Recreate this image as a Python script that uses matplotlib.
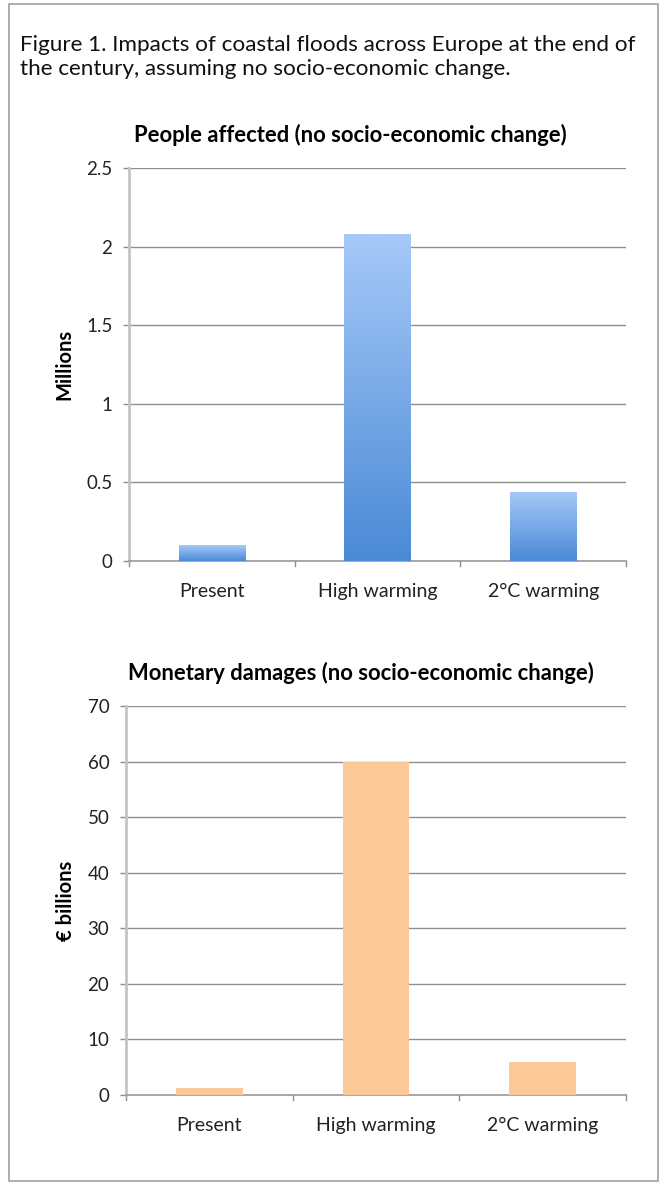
import numpy as np
import matplotlib.pyplot as plt
from matplotlib.colors import LinearSegmentedColormap
from matplotlib.patches import Rectangle

plt.rcParams['font.family'] = ['Lato', 'DejaVu Sans']

scenarios = ['Present', 'High warming', '2°C warming']
people_millions = [0.10, 2.08, 0.44]
damages_billion_eur = [1.2, 60.0, 6.0]

people_ticks = [0, 0.5, 1, 1.5, 2, 2.5]
people_tick_labels = ['0', '0.5', '1', '1.5', '2', '2.5']
damage_ticks = [0, 10, 20, 30, 40, 50, 60, 70]

caption = ('Figure 1. Impacts of coastal floods across Europe at the end of\n'
           'the century, assuming no socio-economic change.')

W, H = 666, 1184
fig = plt.figure(figsize=(W / 100, H / 100), dpi=100)

# frame around the whole figure
fig.add_artist(Rectangle((9 / W, 3 / H), 649 / W, 1177 / H, transform=fig.transFigure,
                         fill=False, ec='#a0a0a0', lw=1.2))
fig.text(20 / W, 1 - 35 / H, caption, ha='left', va='top', fontsize=16.2,
         color='#111111', linespacing=1.25)

blue_cmap = LinearSegmentedColormap.from_list('blue_grad', ['#4a8ad6', '#a6c9f8'])


def style_axis(ax, ticks, labels, top, ylabel, title, title_x):
    ax.set_xlim(-0.5, 2.5)
    ax.set_ylim(0, top)
    ax.set_yticks(ticks)
    ax.set_yticklabels(labels, fontsize=13.5, color='#222222')
    ax.set_xticks([0, 1, 2])
    ax.set_xticklabels(scenarios, fontsize=14, color='#222222')
    ax.tick_params(axis='x', length=0, pad=16)
    ax.tick_params(axis='y', length=4, color='#8c8c8c', width=1, pad=8)
    # category boundary ticks on the x axis
    for xb in [-0.5, 0.5, 1.5, 2.5]:
        ax.plot([xb, xb], [0, -top * 0.012], color='#8c8c8c', lw=1, clip_on=False)
    for s in ['top', 'right']:
        ax.spines[s].set_visible(False)
    ax.spines['left'].set_color('#c4c4c4')
    ax.spines['left'].set_linewidth(2)
    ax.spines['bottom'].set_color('#9a9a9a')
    ax.spines['bottom'].set_linewidth(1.2)
    ax.yaxis.grid(True, color='#8f8f8f', lw=1)
    ax.set_axisbelow(True)
    ax.set_ylabel(ylabel, fontsize=14.5, fontweight='bold', labelpad=8)
    ax.set_title(title, fontsize=15.8, fontweight='bold', pad=19, x=title_x)


# people affected
ax1 = fig.add_axes([129 / W, 1 - 561 / H, 497 / W, 393 / H])
style_axis(ax1, people_ticks, people_tick_labels, 2.5, 'Millions',
           'People affected (no socio-economic change)', 0.445)
bars = ax1.bar(range(len(scenarios)), people_millions, width=0.4, color='none',
               edgecolor='none', zorder=3)
grad = np.linspace(0, 1, 256).reshape(-1, 1)
for b in bars:
    x0, w, h = b.get_x(), b.get_width(), b.get_height()
    im = ax1.imshow(grad, cmap=blue_cmap, origin='lower', aspect='auto',
                    extent=[x0, x0 + w, 0, h], zorder=3)
    im.set_clip_path(b)
ax1.set_xlim(-0.5, 2.5)
ax1.set_ylim(0, 2.5)

# monetary damages
ax2 = fig.add_axes([126 / W, 1 - 1095 / H, 500 / W, 389 / H])
style_axis(ax2, damage_ticks, [str(t) for t in damage_ticks], 70, '€ billions',
           'Monetary damages (no socio-economic change)', 0.47)
ax2.bar(range(len(scenarios)), damages_billion_eur, width=0.4, color='#fbc898',
        edgecolor='none', zorder=3)

fig.savefig('out.png', dpi=100, facecolor='white')
